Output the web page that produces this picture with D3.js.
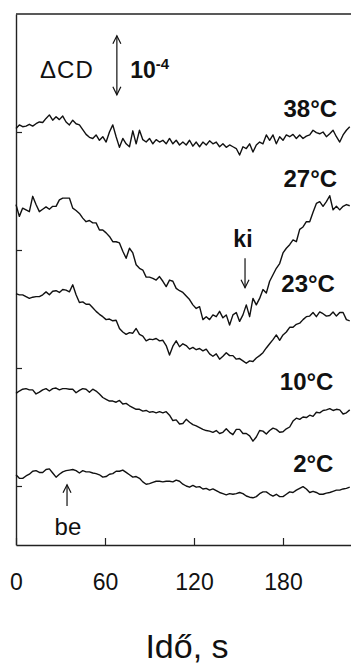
<!DOCTYPE html>
<html>
<head>
<meta charset="utf-8">
<script src="https://cdn.jsdelivr.net/npm/d3@7"></script>
<style>
  body { margin: 0; background: #fff; }
  svg { display: block; }
  text { font-family: "Liberation Sans", Arial, sans-serif; fill: #111; }
</style>
</head>
<body>
<script>
// CD signal (delta CD, in 1e-6 units, traces offset for clarity) vs time
var step = 2.25; // s between samples

var cd38 = [706,712,709,710,713,710,714,717,716,723,
            729,720,726,721,727,717,712,720,714,712,
            704,696,691,689,695,686,692,683,700,712,
            692,674,689,680,675,702,680,703,687,683,
            689,680,687,683,686,680,689,680,686,678,
            683,678,686,676,683,675,683,678,685,680,
            683,675,680,674,678,675,672,661,675,672,
            680,666,678,683,680,695,686,695,680,692,
            686,695,692,696,689,695,689,693,695,703,
            699,697,700,692,697,703,692,683,695,703,709];

var cd27 = [577,557,571,568,565,591,577,565,569,573,
            569,574,574,585,588,588,588,571,567,562,
            554,548,550,546,546,534,534,529,523,514,
            514,512,498,486,503,495,475,469,466,454,
            454,452,449,455,447,438,449,447,435,431,
            428,422,416,407,401,404,382,387,382,390,
            387,396,385,390,373,390,394,379,390,407,
            387,418,407,418,433,427,447,458,469,477,
            495,503,509,517,514,535,539,548,548,564,
            579,582,574,582,592,568,574,568,574,577,575];

var cd23 = [426,424,424,421,418,420,421,421,424,429,
            424,430,431,428,433,432,429,441,424,411,
            412,408,408,402,396,391,387,382,383,380,
            381,367,361,357,360,359,367,357,354,346,
            349,348,350,346,347,338,322,337,346,336,
            341,338,332,335,331,333,329,332,324,320,
            324,315,320,326,321,321,315,316,312,308,
            312,311,317,321,326,334,341,348,356,347,
            356,361,369,369,374,376,382,387,388,394,
            387,395,392,388,389,395,388,394,394,382,380];

var cd10 = [257,261,264,265,263,263,256,259,263,265,
            261,265,266,263,265,265,264,264,258,262,
            265,264,259,264,261,256,250,247,244,244,
            242,245,239,240,236,233,230,230,227,228,
            225,226,224,226,224,226,220,211,212,205,
            206,213,208,204,202,199,196,194,193,191,
            194,189,191,197,191,187,196,196,189,189,
            185,176,183,194,193,188,194,198,196,191,
            192,197,200,210,215,213,217,216,220,218,
            225,224,228,229,231,228,230,229,222,224,229];

var cd2 = [119,113,113,117,120,125,126,123,123,128,
           129,122,115,120,124,126,127,128,126,122,
           126,124,124,122,121,119,115,116,120,121,
           125,125,127,123,119,115,116,113,107,103,
           104,106,108,108,107,108,108,107,110,108,
           103,100,98,101,98,99,95,96,93,95,
           92,89,87,85,87,86,87,89,87,83,
           81,80,82,87,90,90,86,83,86,82,
           82,86,90,89,93,96,99,95,89,91,
           89,86,86,88,89,91,93,93,95,96,98];

var temps = ["38°C", "27°C", "23°C", "10°C", "2°C"];
var xTicks = [0, 60, 120, 180];
var yTicks = [100, 300, 500, 700];

var width = 351;
var height = 666;

var svg = d3.select("body")
            .append("svg")
            .attr("width", width)
            .attr("height", height);

var x = d3.scaleLinear().domain([0, 240]).range([16, 372]);
var y = d3.scaleLinear().domain([0, 900]).range([545, 14]);

var traces = [cd38, cd27, cd23, cd10, cd2].map(function(vals, i)
{
	return {
		label: temps[i],
		points: vals.map(function(v, j) { return [j * step, v]; })
	};
});

// frame
svg.append("line")
   .attr("x1", x(0)).attr("x2", width)
   .attr("y1", y(900)).attr("y2", y(900))
   .attr("stroke", "#222").attr("stroke-width", 1.4);

var xAxis = d3.axisBottom(x)
              .tickValues(xTicks)
              .tickSizeInner(-7)
              .tickSizeOuter(0)
              .tickPadding(29);

var gx = svg.append("g")
            .attr("transform", "translate(0," + y(0) + ")")
            .call(xAxis);
gx.select(".domain").attr("stroke", "#222").attr("stroke-width", 1.4);
gx.selectAll(".tick line").attr("stroke", "#222").attr("stroke-width", 1.2);
gx.selectAll(".tick text")
  .attr("font-size", 23)
  .attr("font-family", "Liberation Sans, Arial, sans-serif")
  .attr("fill", "#111");

var yAxis = d3.axisLeft(y)
              .tickValues(yTicks)
              .tickSizeInner(-6)
              .tickSizeOuter(0)
              .tickFormat("");

var gy = svg.append("g")
            .attr("transform", "translate(" + x(0) + ",0)")
            .call(yAxis);
gy.select(".domain").attr("stroke", "#222").attr("stroke-width", 1.4);
gy.selectAll(".tick line").attr("stroke", "#222").attr("stroke-width", 1.2);

// traces
var line = d3.line()
             .x(function(d) { return x(d[0]); })
             .y(function(d) { return y(d[1]); });

svg.selectAll("path.trace")
   .data(traces)
   .enter()
   .append("path")
   .attr("class", "trace")
   .attr("d", function(d) { return line(d.points); })
   .attr("fill", "none")
   .attr("stroke", "#111")
   .attr("stroke-width", 1.4)
   .attr("stroke-linejoin", "round");

// temperature labels (right aligned)
var labelPos = [[216.5, 725], [216.5, 607], [215, 429], [214, 263], [214, 124]];
svg.selectAll("text.temp")
   .data(traces)
   .enter()
   .append("text")
   .attr("class", "temp")
   .attr("x", function(d, i) { return x(labelPos[i][0]); })
   .attr("y", function(d, i) { return y(labelPos[i][1]); })
   .attr("text-anchor", "end")
   .attr("font-size", 24)
   .attr("font-weight", "bold")
   .text(function(d) { return d.label; });

// vertical arrow helper
function arrow(t, v0, v1, headTop, headBottom)
{
	var px = x(t), p0 = y(v0), p1 = y(v1);
	svg.append("line")
	   .attr("x1", px).attr("x2", px)
	   .attr("y1", p0).attr("y2", p1)
	   .attr("stroke", "#111").attr("stroke-width", 1.2);
	if (headTop)
		svg.append("path")
		   .attr("d", "M" + (px - 4) + "," + (p0 + 8) + "L" + px + "," + p0 + "L" + (px + 4) + "," + (p0 + 8))
		   .attr("fill", "none").attr("stroke", "#111").attr("stroke-width", 1.2);
	if (headBottom)
		svg.append("path")
		   .attr("d", "M" + (px - 4) + "," + (p1 - 8) + "L" + px + "," + p1 + "L" + (px + 4) + "," + (p1 - 8))
		   .attr("fill", "none").attr("stroke", "#111").attr("stroke-width", 1.2);
}

// scale bar: 1e-4 = 100 units
arrow(68, 863, 763, true, true);

svg.append("text")
   .attr("x", x(16.2)).attr("y", y(792))
   .attr("font-size", 24)
   .attr("letter-spacing", 1)
   .text("ΔCD");

var pow = svg.append("text")
             .attr("x", x(77)).attr("y", y(792))
             .attr("font-size", 23)
             .attr("font-weight", "bold");
pow.append("tspan").text("10");
pow.append("tspan").attr("dy", -9).attr("font-size", 15).text("-4");

// ki / be markers
svg.append("text")
   .attr("x", x(153)).attr("y", y(505))
   .attr("text-anchor", "middle")
   .attr("font-size", 23)
   .attr("font-weight", "bold")
   .text("ki");
arrow(154.4, 486, 436, false, true);

svg.append("text")
   .attr("x", x(35)).attr("y", y(17))
   .attr("text-anchor", "middle")
   .attr("font-size", 24)
   .text("be");
arrow(34.4, 102, 66, true, false);

// x title
svg.append("text")
   .attr("x", 187).attr("y", 658)
   .attr("text-anchor", "middle")
   .attr("font-size", 34)
   .text("Idő, s");
</script>
</body>
</html>
